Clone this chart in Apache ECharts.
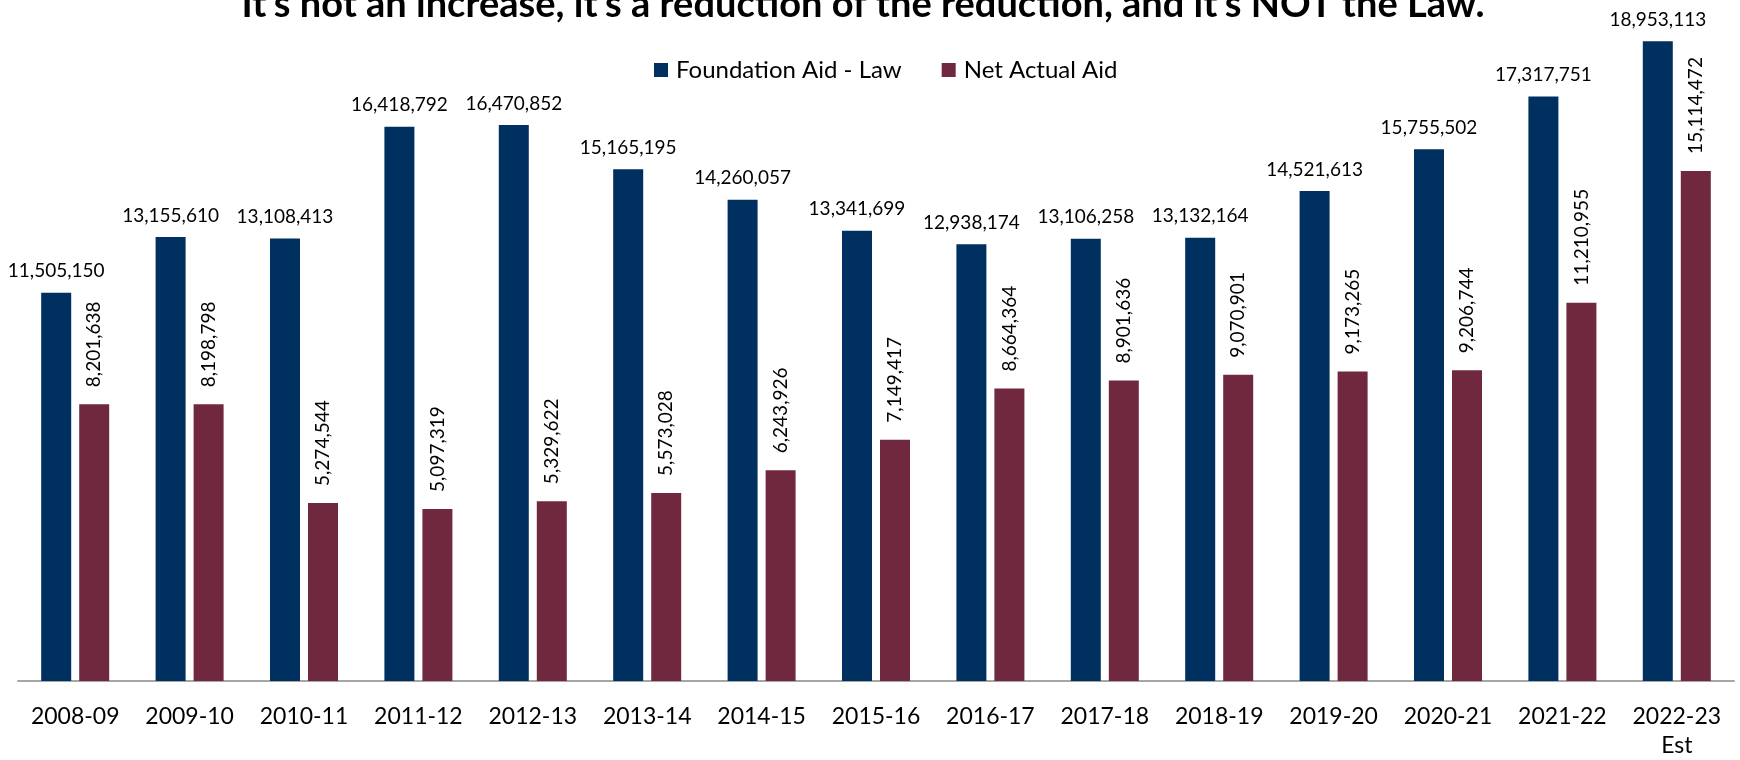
<!DOCTYPE html>
<html>
<head>
<meta charset="utf-8">
<script src="https://cdn.jsdelivr.net/npm/echarts@6/dist/echarts.min.js"></script>
<style>
html,body{margin:0;padding:0;background:#fff;}
#chart{width:1740px;height:760px;}
</style>
</head>
<body>
<div id="chart"></div>
<script>
const titleText = "It\u2019s not an increase, it\u2019s a reduction of the reduction, and it\u2019s NOT the Law.";
const categories = ["2008-09","2009-10","2010-11","2011-12","2012-13","2013-14","2014-15","2015-16","2016-17","2017-18","2018-19","2019-20","2020-21","2021-22","2022-23\nEst"];
const seriesNames = ["Foundation Aid - Law","Net Actual Aid"];
const foundationAidLaw = [11505150,13155610,13108413,16418792,16470852,15165195,14260057,13341699,12938174,13106258,13132164,14521613,15755502,17317751,18953113];
const netActualAid = [8201638,8198798,5274544,5097319,5329622,5573028,6243926,7149417,8664364,8901636,9070901,9173265,9206744,11210955,15114472];

const FONT = 'Lato';
const fmt = p => Number(p.value).toLocaleString('en-US');

const chart = echarts.init(document.getElementById('chart'), null, {renderer:'canvas'});
chart.setOption({
  backgroundColor:'#ffffff',
  animation:false,
  title:{
    text:titleText,
    left:858, textAlign:'center', top:-19,
    textStyle:{fontFamily:FONT, fontWeight:'bold', fontSize:38, color:'#000'}
  },
  legend:{
    data:seriesNames,
    left:649, top:53,
    itemWidth:14, itemHeight:14, itemGap:40,
    icon:'rect',
    textStyle:{fontFamily:FONT, fontSize:24, color:'#000', padding:[0,0,0,3]}
  },
  grid:{left:18, right:6, top:6, bottom:79, containLabel:false},
  xAxis:{
    type:'category', data:categories,
    axisLine:{show:true, lineStyle:{color:'#a6a6a6', width:2}},
    axisTick:{show:false},
    axisLabel:{fontFamily:FONT, fontSize:23, color:'#000', margin:21, lineHeight:29, interval:0}
  },
  yAxis:{
    type:'value', min:0, max:20000000,
    show:false, splitLine:{show:false}
  },
  series:[
    {
      name:seriesNames[0], type:'bar', data:foundationAidLaw,
      barWidth:30, barGap:'26.7%',
      itemStyle:{color:'#003060'},
      label:{show:true, position:'top', distance:12, formatter:fmt,
        fontFamily:FONT, fontSize:19, color:'#000'}
    },
    {
      name:seriesNames[1], type:'bar', data:netActualAid,
      barWidth:30,
      itemStyle:{color:'#70283f'},
      label:{show:true, position:'top', distance:17, rotate:90, align:'left', verticalAlign:'middle',
        formatter:fmt, fontFamily:FONT, fontSize:19, color:'#000'}
    }
  ]
});
</script>
</body>
</html>
